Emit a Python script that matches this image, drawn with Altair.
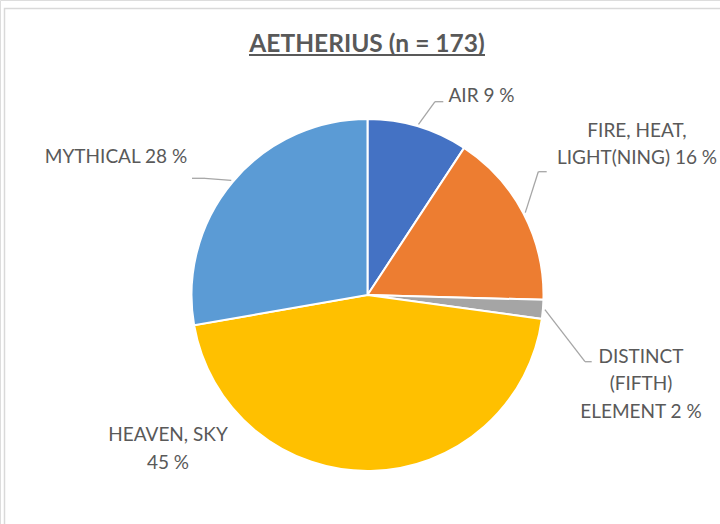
import altair as alt
import pandas as pd

# Survey answers for "aetherius" (n = 173), clockwise from 12 o'clock
categories = ["AIR", "FIRE, HEAT,\nLIGHT(NING)", "DISTINCT\n(FIFTH)\nELEMENT", "HEAVEN, SKY\n", "MYTHICAL"]
counts = [16, 28, 3, 78, 48]
total_n = 173
colors = ["#4472C4", "#ED7D31", "#A5A5A5", "#FFC000", "#5B9BD5"]

# Layout of the outside labels and their leader lines (pixels)
label_x = [481.5, 637, 641, 168, 116]
label_y = [102.3, 136.7, 362.7, 441, 162.7]
elbow_x = [435, 538.3, 585, None, 205]
elbow_y = [101.7, 171.7, 361.7, None, 178.3]
stub_x = [443.3, 546.7, 591.7, None, 192]

CX, CY, R = 367.5, 295, 176
W, H = 720, 524
FONT = "Lato"
TEXT_COLOR = "#595959"
LEADER_COLOR = "#A6A6A6"


def make_label(name, n):
    pct = round(n / total_n * 100)
    sep = "" if name.endswith("\n") else " "
    return (name + sep + f"{pct} %").split("\n")


df = pd.DataFrame({
    "category": categories,
    "count": counts,
    "order": list(range(len(categories))),
    "label": [make_label(c, n) for c, n in zip(categories, counts)],
    "lx": label_x,
    "ly": label_y,
    "ex": elbow_x,
    "ey": elbow_y,
    "tx": stub_x,
})

pie = alt.Chart(df).mark_arc(radius=R, stroke="white", strokeWidth=2).encode(
    theta=alt.Theta("count:Q", stack=True),
    order=alt.Order("order:Q"),
    color=alt.Color("category:N", scale=alt.Scale(domain=categories, range=colors), legend=None),
    x=alt.value(CX),
    y=alt.value(CY),
)

# Leader lines start on the rim at each slice's mid angle
leader_base = (
    alt.Chart(df)
    .transform_window(cum="sum(count)", sort=[alt.SortField("order")], frame=[None, 0])
    .transform_joinaggregate(tot="sum(count)")
    .transform_calculate(mid="(datum.cum - datum.count / 2) / datum.tot * 2 * PI")
    .transform_calculate(
        sx=f"{CX} + {R + 2} * sin(datum.mid)",
        sy=f"{CY} - {R + 2} * cos(datum.mid)",
    )
    .transform_filter("isValid(datum.ex)")
)

leader_diag = leader_base.mark_rule(color=LEADER_COLOR, strokeWidth=1.3).encode(
    x=alt.X("sx:Q", scale=None),
    y=alt.Y("sy:Q", scale=None),
    x2="ex:Q",
    y2="ey:Q",
)
leader_stub = leader_base.mark_rule(color=LEADER_COLOR, strokeWidth=1.3).encode(
    x=alt.X("ex:Q", scale=None),
    y=alt.Y("ey:Q", scale=None),
    x2="tx:Q",
)

labels = alt.Chart(df).mark_text(
    font=FONT, fontSize=19, color=TEXT_COLOR, align="center",
    baseline="alphabetic", lineHeight=27.5,
).encode(
    x=alt.X("lx:Q", scale=None),
    y=alt.Y("ly:Q", scale=None),
    text="label",
)

one = pd.DataFrame({"t": ["AETHERIUS (n = 173)"]})

frame = alt.Chart(one).mark_rect(fill=None, stroke="#D9D9D9", strokeWidth=1.5).encode(
    x=alt.value(4.5), y=alt.value(8.5), x2=alt.value(W + 20), y2=alt.value(H + 20)
)

title = alt.Chart(one).mark_text(
    font=FONT, fontSize=24.5, fontWeight="bold", color=TEXT_COLOR,
    align="center", baseline="alphabetic",
).encode(x=alt.value(367), y=alt.value(52), text="t:N")

underline = alt.Chart(one).mark_rule(color=TEXT_COLOR, strokeWidth=1.8).encode(
    x=alt.value(249), x2=alt.value(485), y=alt.value(55)
)

chart = (
    alt.layer(frame, pie, leader_diag, leader_stub, labels, title, underline)
    .properties(width=W, height=H, autosize=alt.AutoSizeParams(type="none"), padding=0)
    .configure_view(strokeWidth=0)
    .configure(background="white")
)

chart.save("out.html", embed_options={"renderer": "svg", "actions": False})
